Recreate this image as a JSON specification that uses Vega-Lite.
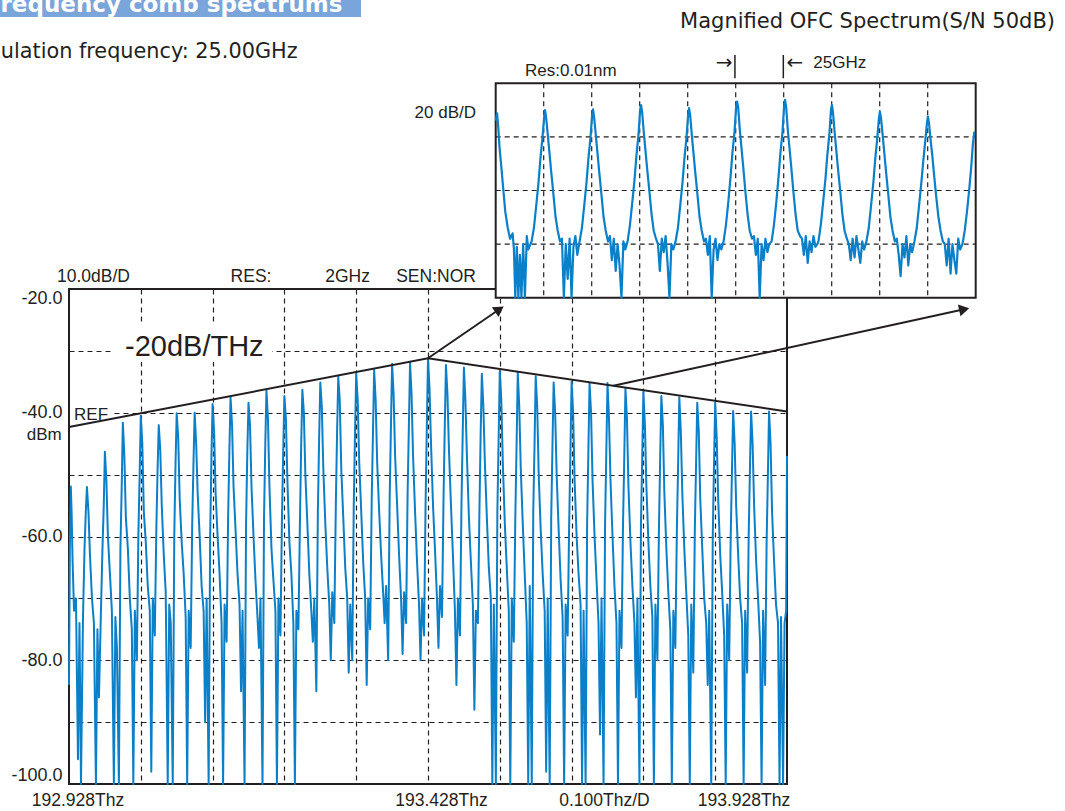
{
"$schema":"https://vega.github.io/schema/vega-lite/v6.json",
"width":718,"height":495,
"autosize":{"type":"none"},
"padding":{"left":69,"top":289,"right":278,"bottom":27},
"background":"#ffffff",
"config":{"view":{"stroke":"#231f20","strokeWidth":2}},
"datasets":{
"trace":[
{"f":0,"p":-84},{"f":1.2,"p":-62},{"f":2.5,"p":-51.9},{"f":3.6,"p":-56},{"f":5,"p":-64},{"f":7,"p":-72},{"f":9.7,"p":-70},{"f":12.5,"p":-96},{"f":14.6,"p":-74},{"f":16.7,"p":-100},{"f":19.5,"p":-73},{"f":21.6,"p":-62},{"f":23.4,"p":-56},
{"f":25,"p":-52},{"f":27.1,"p":-56},{"f":29.2,"p":-63},{"f":32,"p":-70},{"f":34.7,"p":-74},{"f":37.5,"p":-100},{"f":39.6,"p":-75},{"f":41.7,"p":-86},{"f":44.5,"p":-72},{"f":46.6,"p":-62},{"f":48.4,"p":-55},
{"f":50,"p":-46.3},{"f":52.1,"p":-51},{"f":54.2,"p":-60},{"f":57,"p":-66},{"f":59.7,"p":-72},{"f":62.5,"p":-100},{"f":64.6,"p":-73},{"f":66.7,"p":-78},{"f":69.5,"p":-100},{"f":71.6,"p":-62},{"f":73.4,"p":-52},
{"f":75,"p":-41.6},{"f":77.1,"p":-47},{"f":79.2,"p":-57},{"f":82,"p":-62},{"f":84.7,"p":-70},{"f":87.5,"p":-75},{"f":89.6,"p":-100},{"f":91.7,"p":-72},{"f":94.5,"p":-80},{"f":96.6,"p":-60},{"f":98.4,"p":-50},
{"f":100,"p":-40.5},{"f":102.1,"p":-45},{"f":104.2,"p":-56},{"f":107,"p":-61},{"f":109.7,"p":-68},{"f":112.5,"p":-72},{"f":114.6,"p":-98},{"f":116.7,"p":-70},{"f":119.5,"p":-76},{"f":121.6,"p":-59},{"f":123.4,"p":-49},
{"f":125,"p":-42},{"f":127.1,"p":-46},{"f":129.2,"p":-55},{"f":132,"p":-63},{"f":134.7,"p":-69},{"f":137.5,"p":-100},{"f":139.6,"p":-71},{"f":141.7,"p":-74},{"f":144.5,"p":-100},{"f":146.6,"p":-60},{"f":148.4,"p":-48},
{"f":150,"p":-40.1},{"f":152.1,"p":-44},{"f":154.2,"p":-54},{"f":157,"p":-61},{"f":159.7,"p":-66},{"f":162.5,"p":-73},{"f":164.6,"p":-100},{"f":166.7,"p":-72},{"f":169.5,"p":-78},{"f":171.6,"p":-58},{"f":173.4,"p":-48},
{"f":175,"p":-40},{"f":177.1,"p":-45},{"f":179.2,"p":-53},{"f":182,"p":-60},{"f":184.7,"p":-68},{"f":187.5,"p":-72},{"f":189.6,"p":-90},{"f":191.7,"p":-70},{"f":194.5,"p":-100},{"f":196.6,"p":-60},{"f":198.4,"p":-47},
{"f":200,"p":-38.6},{"f":202.1,"p":-43},{"f":204.2,"p":-53},{"f":207,"p":-60},{"f":209.7,"p":-66},{"f":212.5,"p":-74},{"f":214.6,"p":-100},{"f":216.7,"p":-71},{"f":219.5,"p":-77},{"f":221.6,"p":-57},{"f":223.4,"p":-46},
{"f":225,"p":-37.5},{"f":227.1,"p":-42},{"f":229.2,"p":-52},{"f":232,"p":-59},{"f":234.7,"p":-66},{"f":237.5,"p":-71},{"f":239.6,"p":-85},{"f":241.7,"p":-72},{"f":244.5,"p":-100},{"f":246.6,"p":-58},{"f":248.4,"p":-46},
{"f":250,"p":-38.4},{"f":252.1,"p":-42},{"f":254.2,"p":-52},{"f":257,"p":-60},{"f":259.7,"p":-67},{"f":262.5,"p":-73},{"f":264.6,"p":-78},{"f":266.7,"p":-70},{"f":269.5,"p":-100},{"f":271.6,"p":-57},{"f":273.4,"p":-45},
{"f":275,"p":-36.4},{"f":277.1,"p":-41},{"f":279.2,"p":-52},{"f":282,"p":-62},{"f":284.7,"p":-67},{"f":287.5,"p":-72},{"f":289.6,"p":-100},{"f":291.7,"p":-70},{"f":294.5,"p":-76},{"f":296.6,"p":-57},{"f":298.4,"p":-46},
{"f":300,"p":-37.3},{"f":302.1,"p":-41},{"f":304.2,"p":-51},{"f":307,"p":-61},{"f":309.7,"p":-66},{"f":312.5,"p":-74},{"f":314.6,"p":-100},{"f":316.7,"p":-72},{"f":319.5,"p":-75},{"f":321.6,"p":-58},{"f":323.4,"p":-45},
{"f":325,"p":-36.3},{"f":327.1,"p":-40},{"f":329.2,"p":-50},{"f":332,"p":-58},{"f":334.7,"p":-66},{"f":337.5,"p":-72},{"f":339.6,"p":-77},{"f":341.7,"p":-70},{"f":344.5,"p":-85},{"f":346.6,"p":-56},{"f":348.4,"p":-44},
{"f":350,"p":-35.1},{"f":352.1,"p":-39},{"f":354.2,"p":-49},{"f":357,"p":-58},{"f":359.7,"p":-65},{"f":362.5,"p":-71},{"f":364.6,"p":-80},{"f":366.7,"p":-69},{"f":369.5,"p":-74},{"f":371.6,"p":-55},{"f":373.4,"p":-43},
{"f":375,"p":-34.2},{"f":377.1,"p":-38},{"f":379.2,"p":-49},{"f":382,"p":-57},{"f":384.7,"p":-65},{"f":387.5,"p":-70},{"f":389.6,"p":-82},{"f":391.7,"p":-71},{"f":394.5,"p":-80},{"f":396.6,"p":-55},{"f":398.4,"p":-43},
{"f":400,"p":-33.7},{"f":402.1,"p":-38},{"f":404.2,"p":-48},{"f":407,"p":-56},{"f":409.7,"p":-64},{"f":412.5,"p":-70},{"f":414.6,"p":-84},{"f":416.7,"p":-70},{"f":419.5,"p":-75},{"f":421.6,"p":-54},{"f":423.4,"p":-43},
{"f":425,"p":-33.1},{"f":427.1,"p":-38},{"f":429.2,"p":-48},{"f":432,"p":-56},{"f":434.7,"p":-63},{"f":437.5,"p":-69},{"f":439.6,"p":-74},{"f":441.7,"p":-68},{"f":444.5,"p":-80},{"f":446.6,"p":-54},{"f":448.4,"p":-42},
{"f":450,"p":-32.1},{"f":452.1,"p":-37},{"f":454.2,"p":-47},{"f":457,"p":-55},{"f":459.7,"p":-63},{"f":462.5,"p":-70},{"f":464.6,"p":-79},{"f":466.7,"p":-69},{"f":469.5,"p":-74},{"f":471.6,"p":-53},{"f":473.4,"p":-42},
{"f":475,"p":-31.9},{"f":477.1,"p":-37},{"f":479.2,"p":-47},{"f":482,"p":-56},{"f":484.7,"p":-64},{"f":487.5,"p":-71},{"f":489.6,"p":-80},{"f":491.7,"p":-70},{"f":494.5,"p":-76},{"f":496.6,"p":-55},{"f":498.4,"p":-42},
{"f":500,"p":-31.3},{"f":502.1,"p":-36},{"f":504.2,"p":-45},{"f":507,"p":-55},{"f":509.7,"p":-62},{"f":512.5,"p":-70},{"f":514.6,"p":-78},{"f":516.7,"p":-68},{"f":519.5,"p":-73},{"f":521.6,"p":-54},{"f":523.4,"p":-42},
{"f":525,"p":-32.3},{"f":527.1,"p":-37},{"f":529.2,"p":-46},{"f":532,"p":-55},{"f":534.7,"p":-63},{"f":537.5,"p":-72},{"f":539.6,"p":-84},{"f":541.7,"p":-70},{"f":544.5,"p":-76},{"f":546.6,"p":-55},{"f":548.4,"p":-43},
{"f":550,"p":-32.7},{"f":552.1,"p":-38},{"f":554.2,"p":-47},{"f":557,"p":-57},{"f":559.7,"p":-64},{"f":562.5,"p":-71},{"f":564.6,"p":-88},{"f":566.7,"p":-72},{"f":569.5,"p":-74},{"f":571.6,"p":-56},{"f":573.4,"p":-43},
{"f":575,"p":-33.7},{"f":577.1,"p":-39},{"f":579.2,"p":-48},{"f":582,"p":-57},{"f":584.7,"p":-65},{"f":587.5,"p":-70},{"f":589.6,"p":-100},{"f":591.7,"p":-71},{"f":594.5,"p":-100},{"f":596.6,"p":-56},{"f":598.4,"p":-44},
{"f":600,"p":-33.2},{"f":602.1,"p":-38},{"f":604.2,"p":-48},{"f":607,"p":-58},{"f":609.7,"p":-65},{"f":612.5,"p":-72},{"f":614.6,"p":-100},{"f":616.7,"p":-70},{"f":619.5,"p":-77},{"f":621.6,"p":-57},{"f":623.4,"p":-45},
{"f":625,"p":-33.5},{"f":627.1,"p":-39},{"f":629.2,"p":-49},{"f":632,"p":-58},{"f":634.7,"p":-66},{"f":637.5,"p":-74},{"f":639.6,"p":-100},{"f":641.7,"p":-68},{"f":644.5,"p":-100},{"f":646.6,"p":-56},{"f":648.4,"p":-45},
{"f":650,"p":-34.1},{"f":652.1,"p":-39},{"f":654.2,"p":-50},{"f":657,"p":-59},{"f":659.7,"p":-66},{"f":662.5,"p":-72},{"f":664.6,"p":-98},{"f":666.7,"p":-70},{"f":669.5,"p":-100},{"f":671.6,"p":-57},{"f":673.4,"p":-45},
{"f":675,"p":-35.1},{"f":677.1,"p":-40},{"f":679.2,"p":-50},{"f":682,"p":-59},{"f":684.7,"p":-67},{"f":687.5,"p":-73},{"f":689.6,"p":-100},{"f":691.7,"p":-71},{"f":694.5,"p":-76},{"f":696.6,"p":-58},{"f":698.4,"p":-46},
{"f":700,"p":-35},{"f":702.1,"p":-40},{"f":704.2,"p":-51},{"f":707,"p":-60},{"f":709.7,"p":-66},{"f":712.5,"p":-71},{"f":714.6,"p":-100},{"f":716.7,"p":-72},{"f":719.5,"p":-100},{"f":721.6,"p":-58},{"f":723.4,"p":-46},
{"f":725,"p":-35.2},{"f":727.1,"p":-40},{"f":729.2,"p":-51},{"f":732,"p":-60},{"f":734.7,"p":-67},{"f":737.5,"p":-74},{"f":739.6,"p":-92},{"f":741.7,"p":-70},{"f":744.5,"p":-100},{"f":746.6,"p":-58},{"f":748.4,"p":-46},
{"f":750,"p":-35.2},{"f":752.1,"p":-41},{"f":754.2,"p":-51},{"f":757,"p":-60},{"f":759.7,"p":-68},{"f":762.5,"p":-74},{"f":764.6,"p":-100},{"f":766.7,"p":-72},{"f":769.5,"p":-78},{"f":771.6,"p":-58},{"f":773.4,"p":-47},
{"f":775,"p":-36.1},{"f":777.1,"p":-41},{"f":779.2,"p":-52},{"f":782,"p":-61},{"f":784.7,"p":-68},{"f":787.5,"p":-74},{"f":789.6,"p":-86},{"f":791.7,"p":-70},{"f":794.5,"p":-100},{"f":796.6,"p":-58},{"f":798.4,"p":-47},
{"f":800,"p":-36.6},{"f":802.1,"p":-42},{"f":804.2,"p":-52},{"f":807,"p":-61},{"f":809.7,"p":-68},{"f":812.5,"p":-73},{"f":814.6,"p":-100},{"f":816.7,"p":-71},{"f":819.5,"p":-80},{"f":821.6,"p":-59},{"f":823.4,"p":-47},
{"f":825,"p":-37.3},{"f":827.1,"p":-42},{"f":829.2,"p":-53},{"f":832,"p":-62},{"f":834.7,"p":-69},{"f":837.5,"p":-75},{"f":839.6,"p":-100},{"f":841.7,"p":-72},{"f":844.5,"p":-78},{"f":846.6,"p":-59},{"f":848.4,"p":-48},
{"f":850,"p":-37.5},{"f":852.1,"p":-43},{"f":854.2,"p":-53},{"f":857,"p":-62},{"f":859.7,"p":-69},{"f":862.5,"p":-76},{"f":864.6,"p":-100},{"f":866.7,"p":-71},{"f":869.5,"p":-82},{"f":871.6,"p":-59},{"f":873.4,"p":-48},
{"f":875,"p":-38.4},{"f":877.1,"p":-43},{"f":879.2,"p":-54},{"f":882,"p":-62},{"f":884.7,"p":-70},{"f":887.5,"p":-74},{"f":889.6,"p":-84},{"f":891.7,"p":-72},{"f":894.5,"p":-100},{"f":896.6,"p":-60},{"f":898.4,"p":-48},
{"f":900,"p":-38.4},{"f":902.1,"p":-44},{"f":904.2,"p":-54},{"f":907,"p":-63},{"f":909.7,"p":-69},{"f":912.5,"p":-76},{"f":914.6,"p":-100},{"f":916.7,"p":-71},{"f":919.5,"p":-80},{"f":921.6,"p":-60},{"f":923.4,"p":-49},
{"f":925,"p":-39.7},{"f":927.1,"p":-45},{"f":929.2,"p":-55},{"f":932,"p":-63},{"f":934.7,"p":-70},{"f":937.5,"p":-74},{"f":939.6,"p":-100},{"f":941.7,"p":-72},{"f":944.5,"p":-82},{"f":946.6,"p":-60},{"f":948.4,"p":-49},
{"f":950,"p":-39.8},{"f":952.1,"p":-45},{"f":954.2,"p":-55},{"f":957,"p":-64},{"f":959.7,"p":-70},{"f":962.5,"p":-77},{"f":964.6,"p":-100},{"f":966.7,"p":-72},{"f":969.5,"p":-84},{"f":971.6,"p":-61},{"f":973.4,"p":-50},
{"f":975,"p":-39.8},{"f":977.1,"p":-45},{"f":979.2,"p":-56},{"f":982,"p":-64},{"f":984.7,"p":-71},{"f":987.5,"p":-74},{"f":989.6,"p":-100},{"f":991.7,"p":-73},{"f":994.5,"p":-100},{"f":996.6,"p":-74},{"f":998.8,"p":-72},{"f":1000,"p":-47}
],
"inset":[
{"g":0,"d":-14},{"g":0.7,"d":-11.2},{"g":1.3,"d":-16},{"g":2,"d":-24},{"g":2.9,"d":-31},{"g":4,"d":-40},{"g":5,"d":-48},{"g":6.3,"d":-54},{"g":7.5,"d":-58},{"g":8.8,"d":-56},{"g":9.5,"d":-62},{"g":10.2,"d":-80},{"g":11,"d":-61},{"g":11.8,"d":-80},{"g":12.6,"d":-64},{"g":13.4,"d":-80},{"g":14.3,"d":-60},{"g":15.2,"d":-80},{"g":16.2,"d":-57},{"g":17,"d":-62},
{"g":18.7,"d":-59},{"g":19.9,"d":-54},{"g":21.2,"d":-45},{"g":22.3,"d":-37},{"g":23.3,"d":-28},{"g":24.4,"d":-20},{"g":25.2,"d":-13},{"g":25.7,"d":-10},{"g":26.3,"d":-13},{"g":27.1,"d":-19},{"g":28,"d":-26},{"g":28.9,"d":-33},{"g":30,"d":-41},{"g":31.2,"d":-50},{"g":32.3,"d":-55},{"g":33.5,"d":-59},{"g":34.5,"d":-58},{"g":35.5,"d":-80},{"g":36.5,"d":-60},{"g":37.5,"d":-73},{"g":38.5,"d":-58},{"g":39.5,"d":-80},{"g":40.5,"d":-61},{"g":41.5,"d":-57},{"g":42.5,"d":-64},
{"g":43.7,"d":-59},{"g":44.9,"d":-54},{"g":46.2,"d":-45},{"g":47.3,"d":-37},{"g":48.3,"d":-28},{"g":49.4,"d":-20},{"g":50.2,"d":-12},{"g":50.7,"d":-9.7},{"g":51.3,"d":-13},{"g":52.1,"d":-19},{"g":53,"d":-26},{"g":53.9,"d":-33},{"g":55,"d":-41},{"g":56.2,"d":-50},{"g":57.3,"d":-55},{"g":58.5,"d":-59},{"g":59.5,"d":-57},{"g":60.5,"d":-66},{"g":61.5,"d":-58},{"g":62.5,"d":-70},{"g":63.5,"d":-60},{"g":64.5,"d":-68},{"g":65.5,"d":-80},{"g":66.5,"d":-59},{"g":67.5,"d":-62},
{"g":68.7,"d":-59},{"g":69.9,"d":-53},{"g":71.2,"d":-44},{"g":72.3,"d":-36},{"g":73.3,"d":-27},{"g":74.4,"d":-19},{"g":75.2,"d":-10},{"g":75.7,"d":-8.1},{"g":76.3,"d":-11},{"g":77.1,"d":-18},{"g":78,"d":-25},{"g":78.9,"d":-32},{"g":80,"d":-40},{"g":81.2,"d":-49},{"g":82.3,"d":-55},{"g":83.5,"d":-58},{"g":84.5,"d":-60},{"g":85.5,"d":-70},{"g":86.5,"d":-58},{"g":87.5,"d":-63},{"g":88.5,"d":-57},{"g":89.5,"d":-67},{"g":90.5,"d":-80},{"g":91.5,"d":-60},{"g":92.5,"d":-62},
{"g":93.7,"d":-59},{"g":94.9,"d":-54},{"g":96.2,"d":-45},{"g":97.3,"d":-37},{"g":98.3,"d":-28},{"g":99.4,"d":-20},{"g":100.2,"d":-12},{"g":100.7,"d":-9.3},{"g":101.3,"d":-12},{"g":102.1,"d":-19},{"g":103,"d":-26},{"g":103.9,"d":-33},{"g":105,"d":-41},{"g":106.2,"d":-50},{"g":107.3,"d":-55},{"g":108.5,"d":-59},{"g":109.5,"d":-58},{"g":110.5,"d":-64},{"g":111.5,"d":-57},{"g":112.5,"d":-80},{"g":113.5,"d":-62},{"g":114.5,"d":-58},{"g":115.5,"d":-66},{"g":116.5,"d":-60},{"g":117.5,"d":-62},
{"g":118.7,"d":-59},{"g":119.9,"d":-53},{"g":121.2,"d":-44},{"g":122.3,"d":-35},{"g":123.3,"d":-26},{"g":124.4,"d":-18},{"g":125.2,"d":-9},{"g":125.7,"d":-6.8},{"g":126.3,"d":-9},{"g":127.1,"d":-17},{"g":128,"d":-24},{"g":128.9,"d":-31},{"g":130,"d":-40},{"g":131.2,"d":-49},{"g":132.3,"d":-55},{"g":133.5,"d":-58},{"g":134.5,"d":-57},{"g":135.5,"d":-64},{"g":136.5,"d":-58},{"g":137.5,"d":-80},{"g":138.5,"d":-60},{"g":139.5,"d":-66},{"g":140.5,"d":-58},{"g":141.5,"d":-63},{"g":142.5,"d":-60},
{"g":143.7,"d":-59},{"g":144.9,"d":-53},{"g":146.2,"d":-44},{"g":147.3,"d":-35},{"g":148.3,"d":-26},{"g":149.4,"d":-18},{"g":150.2,"d":-8.5},{"g":150.7,"d":-6.2},{"g":151.3,"d":-9},{"g":152.1,"d":-17},{"g":153,"d":-24},{"g":153.9,"d":-31},{"g":155,"d":-40},{"g":156.2,"d":-49},{"g":157.3,"d":-55},{"g":158.5,"d":-57},{"g":159.5,"d":-58},{"g":160.5,"d":-64},{"g":161.5,"d":-57},{"g":162.5,"d":-67},{"g":163.5,"d":-59},{"g":164.5,"d":-63},{"g":165.5,"d":-57},{"g":166.5,"d":-61},{"g":167.5,"d":-60},
{"g":168.1,"d":-59},{"g":169.3,"d":-53},{"g":170.6,"d":-44},{"g":171.7,"d":-36},{"g":172.7,"d":-27},{"g":173.8,"d":-19},{"g":174.6,"d":-10},{"g":175.1,"d":-8.1},{"g":175.7,"d":-11},{"g":176.5,"d":-18},{"g":177.4,"d":-25},{"g":178.3,"d":-32},{"g":179.4,"d":-40},{"g":180.6,"d":-49},{"g":181.7,"d":-55},{"g":182.9,"d":-58},{"g":183.9,"d":-60},{"g":184.9,"d":-66},{"g":185.9,"d":-58},{"g":186.9,"d":-65},{"g":187.9,"d":-57},{"g":188.9,"d":-62},{"g":189.9,"d":-67},{"g":190.9,"d":-59},{"g":191.9,"d":-62},
{"g":193.1,"d":-59},{"g":194.3,"d":-54},{"g":195.6,"d":-45},{"g":196.7,"d":-37},{"g":197.7,"d":-28},{"g":198.8,"d":-20},{"g":199.6,"d":-13},{"g":200.1,"d":-10.6},{"g":200.7,"d":-13},{"g":201.5,"d":-19},{"g":202.4,"d":-26},{"g":203.3,"d":-33},{"g":204.4,"d":-41},{"g":205.6,"d":-50},{"g":206.7,"d":-55},{"g":207.9,"d":-59},{"g":208.9,"d":-58},{"g":209.9,"d":-64},{"g":210.9,"d":-72},{"g":211.9,"d":-60},{"g":212.9,"d":-65},{"g":213.9,"d":-57},{"g":214.9,"d":-68},{"g":215.9,"d":-60},{"g":216.9,"d":-63},
{"g":218.1,"d":-59},{"g":219.3,"d":-54},{"g":220.6,"d":-45},{"g":221.7,"d":-37},{"g":222.7,"d":-29},{"g":223.8,"d":-21},{"g":224.6,"d":-15},{"g":225.1,"d":-12.4},{"g":225.7,"d":-15},{"g":226.5,"d":-21},{"g":227.4,"d":-27},{"g":228.3,"d":-34},{"g":229.4,"d":-42},{"g":230.6,"d":-50},{"g":231.7,"d":-55},{"g":232.9,"d":-59},{"g":233.9,"d":-60},{"g":234.9,"d":-68},{"g":235.9,"d":-58},{"g":236.9,"d":-71},{"g":237.9,"d":-60},{"g":238.9,"d":-66},{"g":239.9,"d":-71},{"g":240.9,"d":-58},{"g":241.9,"d":-62},
{"g":243.1,"d":-60},{"g":244.3,"d":-55},{"g":245.6,"d":-47},{"g":246.7,"d":-39},{"g":247.7,"d":-31},{"g":248.5,"d":-23},{"g":249.3,"d":-18}
]
},
"layer":[
{"layer":[
{"data":{"values":[{"x1":61.3,"x2":282.7,"y1":-25.33,"y2":-31.8},{"x1":1.4,"x2":59.9,"y1":-38.59,"y2":-41.33}]},
 "mark":{"type":"rect","fill":"#ffffff"},
 "encoding":{"x":{"field":"x1","type":"quantitative","scale":{"domain":[0,1000],"nice":false,"zero":false}},"x2":{"field":"x2"},"y":{"field":"y1","type":"quantitative","scale":{"domain":[-100,-20],"nice":false,"zero":false}},"y2":{"field":"y2"}}},
{"data":{"values":[{"x1":-100,"x2":406.7,"y1":28,"y2":23.96}]},
 "mark":{"type":"rect","fill":"#7aa5da"},
 "encoding":{"x":{"field":"x1","type":"quantitative","scale":{"domain":[0,1000],"nice":false,"zero":false}},"x2":{"field":"x2"},"y":{"field":"y1","type":"quantitative","scale":{"domain":[-100,-20],"nice":false,"zero":false}},"y2":{"field":"y2"}}},
{"data":{"name":"trace"},
 "mark":{"type":"line","color":"#0b7fc7","strokeWidth":2,"strokeJoin":"round"},
 "encoding":{
  "x":{"field":"f","type":"quantitative","scale":{"domain":[0,1000],"nice":false,"zero":false},
   "axis":{"values":[100,200,300,400,500,600,700,800,900],"grid":true,"gridColor":"#231f20","gridDash":[5,4],"gridWidth":1.2,"gridOpacity":1,"labels":false,"ticks":false,"domain":false,"title":null}},
  "y":{"field":"p","type":"quantitative","scale":{"domain":[-100,-20],"nice":false,"zero":false},
   "axis":{"values":[-20,-30,-40,-50,-60,-70,-80,-90,-100],"grid":true,"gridColor":"#231f20","gridDash":[5,4],"gridWidth":1.2,"gridOpacity":1,"ticks":false,"domain":false,"title":null,"labelExpr":"datum.value % 20 == 0 ? datum.value + '.0' : ''","labelFlush":true,"labelOverlap":false,"labelFont":"Liberation Sans","labelFontSize":18,"labelColor":"#231f20","labelPadding":7}}}},
{"data":{"values":[{"f":0,"p":-42.3},{"f":500,"p":-31.2},{"f":1000,"p":-39.8}]},
 "mark":{"type":"line","color":"#231f20","strokeWidth":2},
 "encoding":{"x":{"field":"f","type":"quantitative","scale":{"domain":[0,1000],"nice":false,"zero":false}},"y":{"field":"p","type":"quantitative","scale":{"domain":[-100,-20],"nice":false,"zero":false}}}},
{"data":{"values":[{"a":1,"f":500,"p":-31.2},{"a":1,"f":599.5,"p":-23.28},{"a":2,"f":758.1,"p":-35.65},{"a":2,"f":1246.8,"p":-23.28}]},
 "mark":{"type":"line","color":"#231f20","strokeWidth":2},
 "encoding":{"x":{"field":"f","type":"quantitative","scale":{"domain":[0,1000],"nice":false,"zero":false}},"y":{"field":"p","type":"quantitative","scale":{"domain":[-100,-20],"nice":false,"zero":false}},"detail":{"field":"a","type":"nominal"}}},
{"data":{"values":[{"f":599.5,"p":-23.28}]},
 "mark":{"type":"point","shape":"triangle-right","filled":true,"color":"#231f20","opacity":1,"size":140,"angle":-34.4},
 "encoding":{"x":{"field":"f","type":"quantitative","scale":{"domain":[0,1000],"nice":false,"zero":false}},"y":{"field":"p","type":"quantitative","scale":{"domain":[-100,-20],"nice":false,"zero":false}}}},
{"data":{"values":[{"f":1246.8,"p":-23.28}]},
 "mark":{"type":"point","shape":"triangle-right","filled":true,"color":"#231f20","opacity":1,"size":140,"angle":-12.4},
 "encoding":{"x":{"field":"f","type":"quantitative","scale":{"domain":[0,1000],"nice":false,"zero":false}},"y":{"field":"p","type":"quantitative","scale":{"domain":[-100,-20],"nice":false,"zero":false}}}},
{"data":{"values":[{"t":"10.0dB/D","x":34.1,"y":-18.82},{"t":"RES:","x":253.5,"y":-18.82},{"t":"2GHz","x":387.9,"y":-18.82},{"t":"SEN:NOR","x":511.2,"y":-18.82},{"t":"192.928Thz","x":12.5,"y":-103.6},{"t":"193.428Thz","x":518.8,"y":-103.6},{"t":"0.100Thz/D","x":745.8,"y":-103.6},{"t":"193.928Thz","x":940.1,"y":-103.6}]},
 "mark":{"type":"text","font":"Liberation Sans","fontSize":17.5,"align":"center","baseline":"alphabetic","color":"#231f20"},
 "encoding":{"x":{"field":"x","type":"quantitative","scale":{"domain":[0,1000],"nice":false,"zero":false}},"y":{"field":"y","type":"quantitative","scale":{"domain":[-100,-20],"nice":false,"zero":false}},"text":{"field":"t"}}},
{"data":{"values":[{"t":"REF","x":7,"y":-41.17}]},
 "mark":{"type":"text","font":"Liberation Sans","fontSize":17,"align":"left","baseline":"alphabetic","color":"#231f20"},
 "encoding":{"x":{"field":"x","type":"quantitative","scale":{"domain":[0,1000],"nice":false,"zero":false}},"y":{"field":"y","type":"quantitative","scale":{"domain":[-100,-20],"nice":false,"zero":false}},"text":{"field":"t"}}},
{"data":{"values":[{"t":"dBm","x":-10.2,"y":-44.4}]},
 "mark":{"type":"text","font":"Liberation Sans","fontSize":17,"align":"right","baseline":"alphabetic","color":"#231f20"},
 "encoding":{"x":{"field":"x","type":"quantitative","scale":{"domain":[0,1000],"nice":false,"zero":false}},"y":{"field":"y","type":"quantitative","scale":{"domain":[-100,-20],"nice":false,"zero":false}},"text":{"field":"t"}}},
{"data":{"values":[{"t":"-20dB/THz","x":78,"y":-30.83}]},
 "mark":{"type":"text","font":"Liberation Sans","fontSize":29,"align":"left","baseline":"alphabetic","color":"#231f20"},
 "encoding":{"x":{"field":"x","type":"quantitative","scale":{"domain":[0,1000],"nice":false,"zero":false}},"y":{"field":"y","type":"quantitative","scale":{"domain":[-100,-20],"nice":false,"zero":false}},"text":{"field":"t"}}},
{"data":{"values":[{"t":"ulation frequency: 25.00GHz","x":-95,"y":17.29}]},
 "mark":{"type":"text","font":"DejaVu Sans","fontSize":20.8,"align":"left","baseline":"alphabetic","color":"#231f20"},
 "encoding":{"x":{"field":"x","type":"quantitative","scale":{"domain":[0,1000],"nice":false,"zero":false}},"y":{"field":"y","type":"quantitative","scale":{"domain":[-100,-20],"nice":false,"zero":false}},"text":{"field":"t"}}},
{"data":{"values":[{"t":"Magnified OFC Spectrum(S/N 50dB)","x":1373.3,"y":22.13}]},
 "mark":{"type":"text","font":"DejaVu Sans","fontSize":21,"align":"right","baseline":"alphabetic","color":"#231f20"},
 "encoding":{"x":{"field":"x","type":"quantitative","scale":{"domain":[0,1000],"nice":false,"zero":false}},"y":{"field":"y","type":"quantitative","scale":{"domain":[-100,-20],"nice":false,"zero":false}},"text":{"field":"t"}}},
{"data":{"values":[{"t":"requency comb spectrums","x":-95.4,"y":24.82}]},
 "mark":{"type":"text","font":"DejaVu Sans","fontSize":23,"fontWeight":"bold","align":"left","baseline":"alphabetic","color":"#ffffff"},
 "encoding":{"x":{"field":"x","type":"quantitative","scale":{"domain":[0,1000],"nice":false,"zero":false}},"y":{"field":"y","type":"quantitative","scale":{"domain":[-100,-20],"nice":false,"zero":false}},"text":{"field":"t"}}}
]},
{"layer":[
{"data":{"values":[{"x1":0,"x2":250,"y1":0,"y2":-80}]},
 "mark":{"type":"rect","fill":"#ffffff","stroke":"#231f20","strokeWidth":2},
 "encoding":{"x":{"field":"x1","type":"quantitative","scale":{"domain":[-222.24,151.72],"nice":false,"zero":false},"axis":null},"x2":{"field":"x2"},"y":{"field":"y1","type":"quantitative","scale":{"domain":[-261.46,-76.76],"nice":false,"zero":false},"axis":null},"y2":{"field":"y2"}}},
{"data":{"values":[{"g":25},{"g":50},{"g":75},{"g":100},{"g":125},{"g":150},{"g":175},{"g":200},{"g":225}]},
 "mark":{"type":"rule","color":"#231f20","strokeWidth":1.2,"strokeDash":[5,4]},
 "encoding":{"x":{"field":"g","type":"quantitative","scale":{"domain":[-222.24,151.72],"nice":false,"zero":false},"axis":null},"y":{"datum":0,"type":"quantitative","scale":{"domain":[-261.46,-76.76],"nice":false,"zero":false},"axis":null},"y2":{"datum":-80}}},
{"data":{"values":[{"d":-20},{"d":-40},{"d":-60}]},
 "mark":{"type":"rule","color":"#231f20","strokeWidth":1.2,"strokeDash":[5,4]},
 "encoding":{"y":{"field":"d","type":"quantitative","scale":{"domain":[-261.46,-76.76],"nice":false,"zero":false},"axis":null},"x":{"datum":0,"type":"quantitative","scale":{"domain":[-222.24,151.72],"nice":false,"zero":false},"axis":null},"x2":{"datum":250}}},
{"data":{"name":"inset"},
 "mark":{"type":"line","color":"#0b7fc7","strokeWidth":2.2,"strokeJoin":"round"},
 "encoding":{"x":{"field":"g","type":"quantitative","scale":{"domain":[-222.24,151.72],"nice":false,"zero":false},"axis":null},"y":{"field":"d","type":"quantitative","scale":{"domain":[-261.46,-76.76],"nice":false,"zero":false},"axis":null}}},
{"data":{"values":[{"g":124.6,"y1":10.56,"y2":1.87},{"g":149.8,"y1":10.56,"y2":1.87}]},
 "mark":{"type":"rule","color":"#231f20","strokeWidth":1.5},
 "encoding":{"x":{"field":"g","type":"quantitative","scale":{"domain":[-222.24,151.72],"nice":false,"zero":false},"axis":null},"y":{"field":"y1","type":"quantitative","scale":{"domain":[-261.46,-76.76],"nice":false,"zero":false},"axis":null},"y2":{"field":"y2"}}},
{"data":{"values":[{"t":"Res:0.01nm","g":15.26,"d":2.72},{"t":"25GHz","g":165.4,"d":5.6}]},
 "mark":{"type":"text","font":"Liberation Sans","fontSize":17,"align":"left","baseline":"alphabetic","color":"#231f20"},
 "encoding":{"x":{"field":"g","type":"quantitative","scale":{"domain":[-222.24,151.72],"nice":false,"zero":false},"axis":null},"y":{"field":"d","type":"quantitative","scale":{"domain":[-261.46,-76.76],"nice":false,"zero":false},"axis":null},"text":{"field":"t"}}},
{"data":{"values":[{"t":"20 dB/D","g":-10.26,"d":-12.95}]},
 "mark":{"type":"text","font":"Liberation Sans","fontSize":17,"align":"right","baseline":"alphabetic","color":"#231f20"},
 "encoding":{"x":{"field":"g","type":"quantitative","scale":{"domain":[-222.24,151.72],"nice":false,"zero":false},"axis":null},"y":{"field":"d","type":"quantitative","scale":{"domain":[-261.46,-76.76],"nice":false,"zero":false},"axis":null},"text":{"field":"t"}}},
{"data":{"values":[{"t":"→","g":123.4,"d":7.69}]},
 "mark":{"type":"text","font":"DejaVu Sans","fontSize":20,"align":"right","baseline":"middle","color":"#231f20"},
 "encoding":{"x":{"field":"g","type":"quantitative","scale":{"domain":[-222.24,151.72],"nice":false,"zero":false},"axis":null},"y":{"field":"d","type":"quantitative","scale":{"domain":[-261.46,-76.76],"nice":false,"zero":false},"axis":null},"text":{"field":"t"}}},
{"data":{"values":[{"t":"←","g":151.4,"d":7.69}]},
 "mark":{"type":"text","font":"DejaVu Sans","fontSize":20,"align":"left","baseline":"middle","color":"#231f20"},
 "encoding":{"x":{"field":"g","type":"quantitative","scale":{"domain":[-222.24,151.72],"nice":false,"zero":false},"axis":null},"y":{"field":"d","type":"quantitative","scale":{"domain":[-261.46,-76.76],"nice":false,"zero":false},"axis":null},"text":{"field":"t"}}}
]}
],
"resolve":{"scale":{"x":"independent","y":"independent"}}
}
